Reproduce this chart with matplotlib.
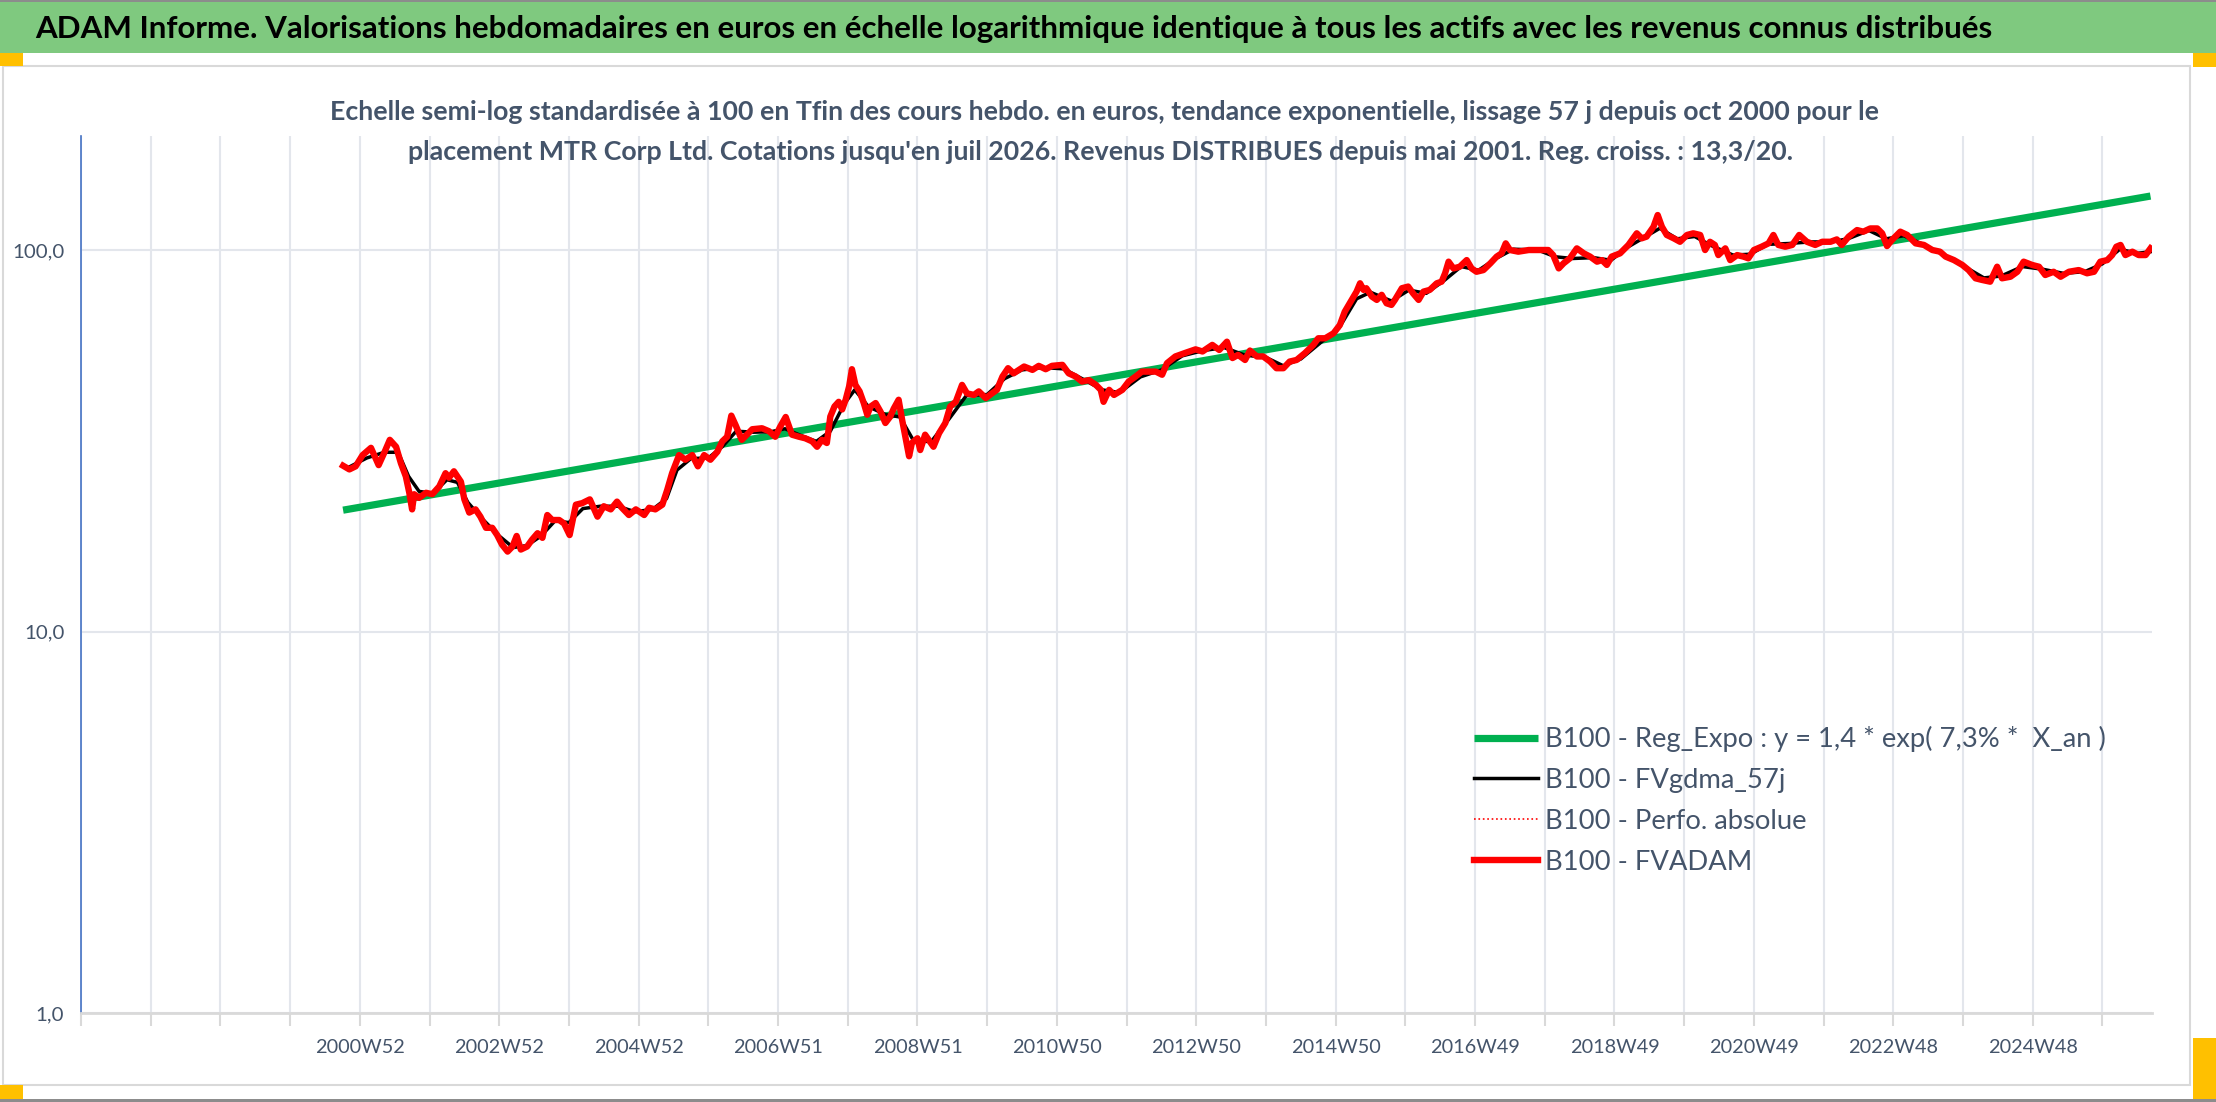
import matplotlib
matplotlib.use('Agg')
import matplotlib.pyplot as plt
from matplotlib.patches import Rectangle
from matplotlib.ticker import NullLocator, FixedLocator
from matplotlib import font_manager
import numpy as np

# ---------------- data ----------------
x_tick_labels = ['2000W52', '2002W52', '2004W52', '2006W51', '2008W51', '2010W50',
                 '2012W50', '2014W50', '2016W49', '2018W49', '2020W49', '2022W48', '2024W48']
x_label_years = [2001, 2003, 2005, 2007, 2009, 2011, 2013, 2015, 2017, 2019, 2021, 2023, 2025]
y_tick_values = [1, 10, 100]
y_tick_labels = ['1,0', '10,0', '100,0']

red_years = [2000.76, 2000.85, 2000.94, 2001.04, 2001.16, 2001.27, 2001.35, 2001.43, 2001.52, 2001.59,
             2001.66, 2001.71, 2001.75, 2001.78, 2001.85, 2001.95, 2002.04, 2002.14, 2002.23, 2002.28,
             2002.35, 2002.45, 2002.50, 2002.57, 2002.66, 2002.73, 2002.81, 2002.90, 2002.97, 2003.04,
             2003.12, 2003.19, 2003.25, 2003.31, 2003.40, 2003.47, 2003.55, 2003.62, 2003.69, 2003.76,
             2003.86, 2003.93, 2004.01, 2004.10, 2004.19, 2004.30, 2004.41, 2004.50, 2004.60, 2004.69,
             2004.76, 2004.86, 2004.96, 2005.08, 2005.15, 2005.24, 2005.34, 2005.41, 2005.48, 2005.58,
             2005.67, 2005.77, 2005.85, 2005.94, 2006.03, 2006.13, 2006.20, 2006.27, 2006.33, 2006.39,
             2006.48, 2006.63, 2006.77, 2006.87, 2006.96, 2007.03, 2007.11, 2007.20, 2007.30, 2007.39,
             2007.49, 2007.56, 2007.63, 2007.70, 2007.75, 2007.81, 2007.87, 2007.92, 2007.97, 2008.02,
             2008.06, 2008.11, 2008.17, 2008.23, 2008.28, 2008.33, 2008.40, 2008.47, 2008.54, 2008.61,
             2008.66, 2008.73, 2008.78, 2008.83, 2008.88, 2008.92, 2009.00, 2009.04, 2009.11, 2009.23,
             2009.31, 2009.40, 2009.47, 2009.55, 2009.64, 2009.71, 2009.81, 2009.88, 2009.98, 2010.07,
             2010.14, 2010.22, 2010.30, 2010.38, 2010.53, 2010.65, 2010.74, 2010.84, 2010.93, 2011.08,
             2011.17, 2011.27, 2011.36, 2011.46, 2011.56, 2011.63, 2011.67, 2011.75, 2011.82, 2011.94,
             2012.03, 2012.13, 2012.22, 2012.32, 2012.42, 2012.51, 2012.58, 2012.70, 2012.85, 2012.99,
             2013.09, 2013.23, 2013.33, 2013.44, 2013.52, 2013.60, 2013.70, 2013.77, 2013.87, 2013.96,
             2014.06, 2014.15, 2014.25, 2014.34, 2014.44, 2014.56, 2014.68, 2014.75, 2014.85, 2014.97,
             2015.06, 2015.13, 2015.23, 2015.30, 2015.35, 2015.40, 2015.44, 2015.52, 2015.59, 2015.66,
             2015.73, 2015.80, 2015.85, 2015.95, 2016.04, 2016.11, 2016.19, 2016.26, 2016.35, 2016.45,
             2016.52, 2016.57, 2016.62, 2016.69, 2016.78, 2016.88, 2016.95, 2017.02, 2017.12, 2017.22,
             2017.31, 2017.38, 2017.44, 2017.50, 2017.62, 2017.77, 2017.91, 2018.05, 2018.12, 2018.20,
             2018.27, 2018.36, 2018.46, 2018.56, 2018.65, 2018.75, 2018.82, 2018.89, 2018.96, 2019.08,
             2019.20, 2019.32, 2019.39, 2019.46, 2019.56, 2019.62, 2019.68, 2019.75, 2019.85, 2019.94,
             2020.04, 2020.13, 2020.23, 2020.30, 2020.37, 2020.44, 2020.49, 2020.59, 2020.66, 2020.76,
             2020.85, 2020.92, 2021.00, 2021.11, 2021.21, 2021.28, 2021.35, 2021.45, 2021.55, 2021.65,
             2021.76, 2021.88, 2021.98, 2022.10, 2022.19, 2022.26, 2022.36, 2022.48, 2022.57, 2022.67,
             2022.77, 2022.84, 2022.91, 2022.98, 2023.10, 2023.20, 2023.32, 2023.44, 2023.56, 2023.67,
             2023.75, 2023.87, 2023.99, 2024.08, 2024.18, 2024.27, 2024.39, 2024.49, 2024.56, 2024.68,
             2024.78, 2024.87, 2024.99, 2025.09, 2025.18, 2025.30, 2025.40, 2025.52, 2025.66, 2025.78,
             2025.88, 2025.97, 2026.07, 2026.14, 2026.20, 2026.26, 2026.33, 2026.43, 2026.52, 2026.62,
             2026.69]
red_vals = [27.2, 26.6, 27.1, 29.0, 30.3, 27.3, 29.4, 31.8, 30.5, 27.6,
            25.5, 23.1, 20.9, 22.9, 22.4, 23.1, 22.9, 24.0, 26.0, 25.3,
            26.3, 24.7, 22.2, 20.5, 20.9, 20.0, 18.7, 18.7, 17.9, 16.9,
            16.2, 16.7, 17.8, 16.4, 16.7, 17.4, 18.1, 17.6, 20.2, 19.6,
            19.6, 19.2, 17.9, 21.5, 21.7, 22.2, 20.0, 21.3, 20.9, 21.9,
            21.1, 20.2, 20.9, 20.2, 21.1, 20.9, 21.5, 23.5, 26.0, 29.0,
            28.2, 29.0, 27.1, 29.0, 28.2, 29.6, 31.5, 32.4, 36.8, 34.8,
            31.8, 33.9, 34.1, 33.5, 32.4, 34.4, 36.5, 32.8, 32.4, 32.1,
            31.5, 30.5, 31.8, 31.2, 36.6, 38.9, 40.0, 38.2, 40.5, 43.9,
            48.7, 44.3, 42.6, 39.7, 37.0, 38.9, 39.7, 37.7, 35.2, 36.6,
            38.4, 40.5, 35.9, 32.1, 28.8, 31.2, 32.1, 29.9, 32.8, 30.5,
            33.1, 35.2, 38.9, 40.0, 44.3, 42.1, 41.7, 42.6, 40.9, 42.1,
            43.0, 46.6, 49.0, 47.5, 49.5, 48.5, 49.7, 48.7, 49.7, 50.0,
            47.5, 46.6, 45.2, 45.6, 44.3, 43.0, 40.0, 43.0, 41.7, 43.0,
            45.2, 46.6, 48.0, 48.0, 48.0, 47.1, 50.5, 52.6, 53.8, 54.9,
            54.2, 56.4, 54.7, 57.5, 52.1, 53.1, 51.5, 54.5, 52.6, 52.6,
            51.0, 49.0, 49.0, 51.0, 51.5, 53.7, 56.4, 58.7, 58.7, 60.5,
            63.6, 68.9, 74.0, 77.8, 81.8, 78.6, 79.4, 75.5, 74.0, 76.3,
            72.5, 71.8, 74.0, 79.4, 80.2, 77.0, 74.0, 77.8, 78.6, 81.8,
            82.6, 86.9, 93.2, 89.5, 90.4, 94.1, 89.5, 87.7, 88.6, 92.3,
            96.1, 98.0, 104.1, 100.0, 99.0, 100.0, 100.0, 100.0, 97.0, 89.5,
            92.3, 95.1, 101.0, 98.0, 96.1, 93.2, 94.1, 91.4, 96.1, 98.0,
            103.1, 110.6, 107.3, 108.4, 115.1, 123.5, 115.1, 109.5, 107.3, 105.1,
            109.5, 110.6, 109.5, 100.0, 105.1, 103.1, 97.0, 101.0, 94.1, 97.0,
            96.1, 95.1, 100.0, 102.0, 104.1, 109.5, 103.1, 102.0, 103.1, 109.5,
            105.1, 103.1, 105.1, 105.1, 106.6, 103.1, 108.4, 112.8, 111.7, 113.9,
            113.9, 110.6, 102.4, 106.2, 111.7, 109.5, 104.1, 103.1, 100.0, 99.0,
            96.1, 94.1, 91.4, 88.6, 84.3, 83.5, 82.6, 90.4, 84.3, 85.1,
            87.7, 93.2, 91.4, 90.4, 86.0, 87.7, 85.1, 87.7, 88.6, 86.9,
            87.7, 93.2, 94.1, 97.0, 102.0, 103.1, 97.0, 99.0, 97.0, 97.0,
            101.0]

black_years = [2000.85, 2001.10, 2001.35, 2001.55, 2001.70, 2001.85, 2002.05, 2002.25, 2002.40, 2002.55,
               2002.75, 2003.00, 2003.20, 2003.40, 2003.60, 2003.80, 2004.00, 2004.20, 2004.45, 2004.70,
               2004.95, 2005.20, 2005.40, 2005.55, 2005.75, 2006.00, 2006.20, 2006.40, 2006.65, 2006.90,
               2007.10, 2007.30, 2007.55, 2007.75, 2007.95, 2008.10, 2008.30, 2008.55, 2008.75, 2008.95,
               2009.20, 2009.45, 2009.70, 2010.00, 2010.25, 2010.50, 2010.80, 2011.10, 2011.40, 2011.65,
               2011.90, 2012.20, 2012.50, 2012.80, 2013.10, 2013.40, 2013.70, 2014.00, 2014.25, 2014.50,
               2014.80, 2015.05, 2015.30, 2015.50, 2015.80, 2016.05, 2016.30, 2016.55, 2016.80, 2017.05,
               2017.30, 2017.55, 2017.90, 2018.15, 2018.40, 2018.70, 2018.95, 2019.20, 2019.45, 2019.65,
               2019.90, 2020.15, 2020.40, 2020.70, 2020.95, 2021.20, 2021.50, 2021.80, 2022.10, 2022.35,
               2022.65, 2022.90, 2023.15, 2023.45, 2023.75, 2024.00, 2024.30, 2024.55, 2024.85, 2025.15,
               2025.45, 2025.75, 2026.00, 2026.25, 2026.50, 2026.69]
black_vals = [27.0, 28.5, 29.5, 29.5, 25.5, 23.3, 23.0, 25.0, 24.6, 21.8,
              19.8, 17.8, 16.6, 16.8, 17.8, 19.5, 19.3, 21.0, 21.3, 21.3,
              20.6, 20.9, 22.3, 26.5, 28.4, 28.5, 30.5, 33.5, 33.3, 33.4,
              34.0, 32.8, 31.5, 33.5, 39.5, 43.0, 38.8, 37.0, 36.5, 31.5,
              31.5, 36.0, 41.5, 41.8, 46.0, 48.5, 49.2, 48.8, 45.6, 43.0,
              42.3, 46.5, 48.5, 52.8, 54.5, 55.5, 53.0, 52.3, 49.7, 51.8,
              57.5, 62.5, 74.5, 77.5, 73.5, 78.5, 77.0, 83.0, 90.5, 88.5,
              95.0, 100.5, 100.0, 96.0, 95.0, 95.5, 94.0, 102.0, 108.5, 114.0,
              107.0, 108.5, 102.5, 97.0, 97.5, 103.5, 104.0, 105.0, 105.0, 107.0,
              112.5, 107.0, 109.0, 103.0, 96.5, 91.0, 84.5, 85.5, 90.5, 89.0,
              86.8, 87.8, 92.0, 100.5, 98.0, 99.0]

perfo_years = red_years
perfo_vals = red_vals

green_years = [2000.76, 2026.69]
green_vals = [20.8, 138.5]

legend_labels = ['B100 - Reg_Expo : y = 1,4 * exp( 7,3% *  X_an )',
                 'B100 - FVgdma_57j',
                 'B100 - Perfo. absolue',
                 'B100 - FVADAM']

title_text = ("ADAM Informe. Valorisations hebdomadaires en euros en échelle logarithmique "
              "identique à tous les actifs avec les revenus connus distribués")
subtitle_1 = ("Echelle semi-log standardisée à 100 en Tfin des cours hebdo. en euros, tendance "
              "exponentielle, lissage 57 j depuis oct 2000 pour le")
subtitle_2 = ("placement MTR Corp Ltd. Cotations jusqu'en juil 2026. Revenus DISTRIBUES "
              "depuis mai 2001. Reg. croiss. : 13,3/20.")

# ---------------- layout ----------------
W, H = 2216, 1102
avail = {f.name for f in font_manager.fontManager.ttflist}
FONT = 'DejaVu Sans'
for cand in ['Lato', 'Open Sans', 'Roboto']:
    if cand in avail:
        FONT = cand
        break
plt.rcParams['font.family'] = [FONT, 'DejaVu Sans']

fig = plt.figure(figsize=(W / 100, H / 100), dpi=100)
fig.patch.set_facecolor('white')
renderer = fig.canvas.get_renderer()


def fx(px):
    return px / W


def fy(py):
    return 1 - py / H


def rect(x0, y0, x1, y1, color, z=0, fill=True, ec=None, lw=0):
    r = Rectangle((fx(x0), fy(y1)), fx(x1 - x0), (y1 - y0) / H, transform=fig.transFigure,
                  facecolor=color if fill else 'none', edgecolor=ec if ec else 'none',
                  linewidth=lw, zorder=z)
    fig.add_artist(r)


def fit_width(t, target):
    bb = t.get_window_extent(renderer)
    t.set_fontsize(t.get_fontsize() * target / bb.width)


def fitted_size(text, target, weight='normal'):
    p = fig.text(0, 0, text, fontsize=18, fontweight=weight)
    fit_width(p, target)
    s = p.get_fontsize()
    p.remove()
    return s


# frame decorations (Excel-like)
rect(0, 0, W, 2, '#8C8C8C', z=1)
rect(0, 2, W, 53, '#7FC97F', z=1)
rect(3, 66, 2190, 1085, 'white', z=0, fill=False, ec='#D9D9D9', lw=1.5)
rect(0, 1099, W, H, '#8C8C8C', z=1)
rect(0, 53, 23, 66, '#FFC000', z=2)
rect(2193, 53, W, 67, '#FFC000', z=2)
rect(2193, 1038, W, 1099, '#FFC000', z=2)
rect(0, 1085, 23, 1099, '#FFC000', z=2)

t = fig.text(fx(35), fy(29), title_text, fontsize=22, fontweight='bold', color='black',
             ha='left', va='center', zorder=3)
fit_width(t, 1953)

s1 = fig.text(fx(1105), fy(112), subtitle_1, fontsize=18, fontweight='bold', color='#44546A',
              ha='center', va='center')
fit_width(s1, 1553)
s2 = fig.text(fx(1101), fy(152), subtitle_2, fontsize=s1.get_fontsize(), fontweight='bold',
              color='#44546A', ha='center', va='center')

# ---------------- axes ----------------
ax = fig.add_axes([fx(81), fy(1013), fx(2152 - 81), (1013 - 136) / H])
ax.set_facecolor('none')
WEEKS = 52.0
BASE = 1997.0


def to_cat(years):
    return (np.asarray(years, dtype=float) - BASE) * WEEKS


ax.set_yscale('log')
ax.set_ylim(1, 199)
ax.set_xlim(0, 1545)

grid_pos = np.arange(0, 1509, 52)
ax.xaxis.set_major_locator(FixedLocator(grid_pos))
lab_pos = to_cat(x_label_years)
labels = []
for g in grid_pos:
    hit = [l for p, l in zip(lab_pos, x_tick_labels) if abs(p - g) < 1]
    labels.append(hit[0] if hit else '')
ax.set_xticklabels(labels)
ax.set_yticks(y_tick_values)
ax.set_yticklabels(y_tick_labels)
ax.yaxis.set_minor_locator(NullLocator())
ax.xaxis.set_minor_locator(NullLocator())

ax.grid(True, which='major', color='#E3E6EC', linewidth=1.5, zorder=0)
ax.set_axisbelow(True)
for side in ['top', 'right']:
    ax.spines[side].set_visible(False)
ax.spines['left'].set_color('#4472C4')
ax.spines['left'].set_linewidth(1.2)
ax.spines['bottom'].set_color('#D9D9D9')
ax.spines['bottom'].set_linewidth(2)

xfs = fitted_size('2000W52', 90)
yfs = fitted_size('100,0', 52)
ax.tick_params(axis='x', length=9, width=1.5, color='#D9D9D9', pad=10,
               labelsize=xfs, labelcolor='#44546A')
ax.tick_params(axis='y', length=0, pad=12, labelsize=yfs, labelcolor='#44546A')

l_green, = ax.plot(to_cat(green_years), green_vals, color='#00B050', lw=5.2,
                   solid_capstyle='butt', zorder=3)
l_black, = ax.plot(to_cat(black_years), black_vals, color='black', lw=2.5, zorder=4)
l_dot, = ax.plot(to_cat(perfo_years), perfo_vals, color='red', lw=1.2, ls=':', zorder=5)
l_red, = ax.plot(to_cat(red_years), red_vals, color='#FF0000', lw=4.6, zorder=6,
                 solid_joinstyle='round')

# legend
lfs = fitted_size(legend_labels[0], 560)
leg = fig.legend([l_green, l_black, l_dot, l_red], legend_labels, loc='upper left',
                 bbox_to_anchor=(fx(1474), fy(726)), frameon=False, fontsize=lfs,
                 borderpad=0, borderaxespad=0, handlelength=64 / (lfs * 100 / 72),
                 handletextpad=0.25, labelspacing=0.58, labelcolor='#44546A')

fig.savefig('out.png', dpi=100)
